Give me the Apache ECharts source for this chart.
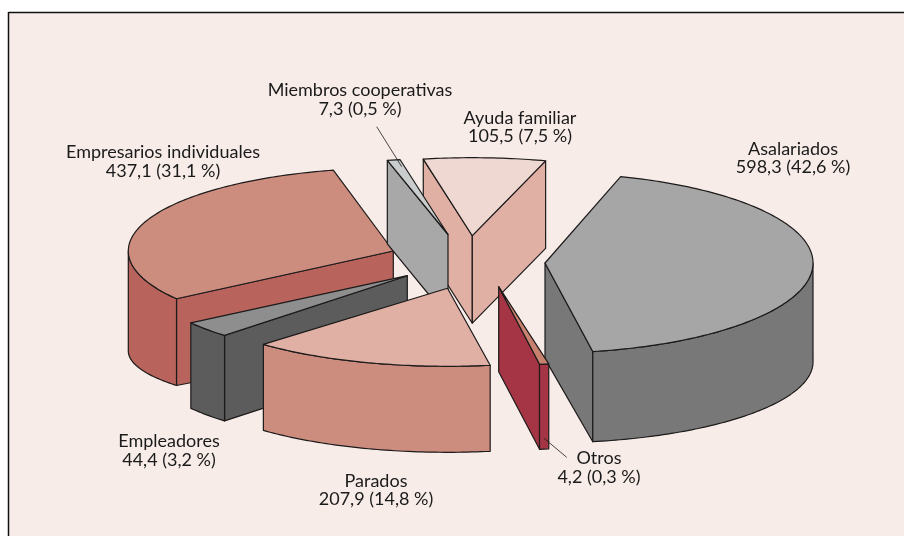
<!DOCTYPE html>
<html>
<head>
<meta charset="utf-8">
<style>
  html, body { margin: 0; padding: 0; background: #fff; }
  #chart { width: 904px; height: 536px; }
</style>
<script src="https://cdn.jsdelivr.net/npm/echarts@6/dist/echarts.min.js"></script>
</head>
<body>
<div id="chart"></div>
<script>
// clockwise from the top right, as the pie runs
const sliceNames = ['Asalariados', 'Otros', 'Parados', 'Empleadores', 'Empresarios individuales', 'Miembros cooperativas', 'Ayuda familiar']
const sliceValues = [598.3, 4.2, 207.9, 44.4, 437.1, 7.3, 105.5]
const slicePercents = [42.6, 0.3, 14.8, 3.2, 31.1, 0.5, 7.5]

const topColors = ['#a6a6a6', '#c8806f', '#e0b0a5', '#8e8e8e', '#cc8c7e', '#c9cdcd', '#f0d8d2']
const wallColors = ['#787878', '#a53545', '#cc8c7e', '#5c5c5c', '#b8645c', '#a8a8a8', '#e0b0a5']

// each wedge is pulled out by hand in the original, so every one has its own apex and ellipse
// rot nudges the wedge, minSweep keeps the thin ones visible, shrink flattens the lower rim
const sliceLayout = [
  { x: 545, y: 263, rx: 268, ry: 90, depth: 99, shrink: 9, rot: 0, order: 1 },
  { x: 498.7, y: 286.7, rx: 268, ry: 78.5, depth: 85, shrink: 0, rot: 0.5, order: 6, minSweep: 2 },
  { x: 447.5, y: 288.3, rx: 265, ry: 78, depth: 86, shrink: 0, rot: 1, order: 7 },
  { x: 407.3, y: 275.7, rx: 263, ry: 83, depth: 85.5, shrink: 0, rot: 1, order: 5 },
  { x: 393.3, y: 251, rx: 265, ry: 83, depth: 100, shrink: 23, rot: 1.5, order: 3 },
  { x: 448, y: 234.5, rx: 268, ry: 76, depth: 83.5, shrink: 0, rot: 1.5, minSweep: 2.8, order: 4 },
  { x: 472.3, y: 235.7, rx: 262, ry: 78, depth: 87.5, shrink: 0, rot: 2, order: 2 }
]

const labelPlaces = [
  [793, 158], [599, 467.5], [376, 490], [169, 450.5], [163, 161.5], [360, 99.5], [520, 127]
]

const START_ANGLE = 73.6
const FONT = '18px Lato, "Noto Sans", sans-serif'
const LINE_COLOR = '#1c1a1a'

const total = sliceValues.reduce((a, b) => a + b, 0)
const sweeps = sliceValues.map((v, i) => Math.max(v / total * 360, sliceLayout[i].minSweep || 0))
const startAngles = []
sweeps.reduce((angle, s, i) => {
  startAngles[i] = angle
  return angle - s
}, START_ANGLE)

function comma (n) {
  return String(n).replace('.', ',')
}

function wedge (i, sweep) {
  const l = sliceLayout[i]
  const t0 = startAngles[i] + l.rot
  const t1 = t0 - sweep
  const rad = d => d * Math.PI / 180
  const top = d => [l.x + l.rx * Math.cos(rad(d)), l.y - l.ry * Math.sin(rad(d))]
  const down = d => {
    const p = top(d)
    return [p[0], p[1] + l.depth - l.shrink * Math.abs(Math.sin(rad(d)))]
  }
  const steps = Math.max(2, Math.ceil(sweep))
  const apex = [l.x, l.y]
  const apexDown = [l.x, l.y + l.depth - (l.shrink ? l.shrink * 0.35 : 0)]
  const rim = []
  for (let k = 0; k <= steps; k++) rim.push(t0 - sweep * k / steps)

  const style = (fill) => ({ fill: fill, stroke: LINE_COLOR, lineWidth: 1.2, lineJoin: 'round' })
  const poly = (points, fill, z) => ({
    type: 'polygon',
    z2: l.order * 10 + z,
    shape: { points: points },
    style: style(fill)
  })
  const children = []
  const wall = wallColors[i]

  // only the faces turned to the viewer are drawn
  if (Math.cos(rad(t0)) < 0) {
    children.push(poly([apex, top(t0), down(t0), apexDown], wall, 0))
  }
  if (Math.cos(rad(t1)) > 0) {
    children.push(poly([apex, top(t1), down(t1), apexDown], wall, 0))
  }
  const front = rim.filter(d => Math.sin(rad(d)) <= 0)
  if (front.length > 1) {
    children.push(poly(front.map(top).concat(front.slice().reverse().map(down)), wall, 1))
  }
  children.push(poly([apex].concat(rim.map(top)), topColors[i], 2))
  return children
}

const chart = echarts.init(document.getElementById('chart'), null, { renderer: 'canvas' })

chart.setOption({
  animation: false,
  backgroundColor: '#ffffff',
  graphic: [
    { type: 'rect', z: 0, shape: { x: 9, y: 13, width: 895, height: 523 }, style: { fill: '#f7ece8' } },
    { type: 'line', z: 1, shape: { x1: 8.5, y1: 12.5, x2: 904, y2: 12.5 }, style: { stroke: '#111', lineWidth: 1.5 } },
    { type: 'line', z: 1, shape: { x1: 8.5, y1: 12, x2: 8.5, y2: 536 }, style: { stroke: '#111', lineWidth: 1.5 } },
    // leader lines of the two thin slices
    { type: 'line', z: 5, shape: { x1: 376.7, y1: 126.7, x2: 401.7, y2: 166.7 }, style: { stroke: LINE_COLOR, lineWidth: 0.8 } },
    { type: 'line', z: 5, shape: { x1: 544, y1: 438.3, x2: 566.7, y2: 457.3 }, style: { stroke: LINE_COLOR, lineWidth: 0.8 } }
  ],
  series: [{
    type: 'custom',
    coordinateSystem: 'none',
    z: 3,
    silent: true,
    data: sliceValues.map((v, i) => [v, i]),
    renderItem: function (params, api) {
      const i = api.value(1)
      const sweep = sweeps[i]
      const children = wedge(i, sweep)
      const place = labelPlaces[i]
      children.push({
        type: 'text',
        z2: 200,
        style: {
          x: place[0],
          y: place[1],
          text: sliceNames[i] + '\n' + comma(api.value(0)) + ' (' + comma(slicePercents[i]) + ' %)',
          font: FONT,
          lineHeight: 18.5,
          fill: '#1a1a1a',
          align: 'center',
          verticalAlign: 'middle'
        }
      })
      return { type: 'group', children: children }
    }
  }]
})
</script>
</body>
</html>
